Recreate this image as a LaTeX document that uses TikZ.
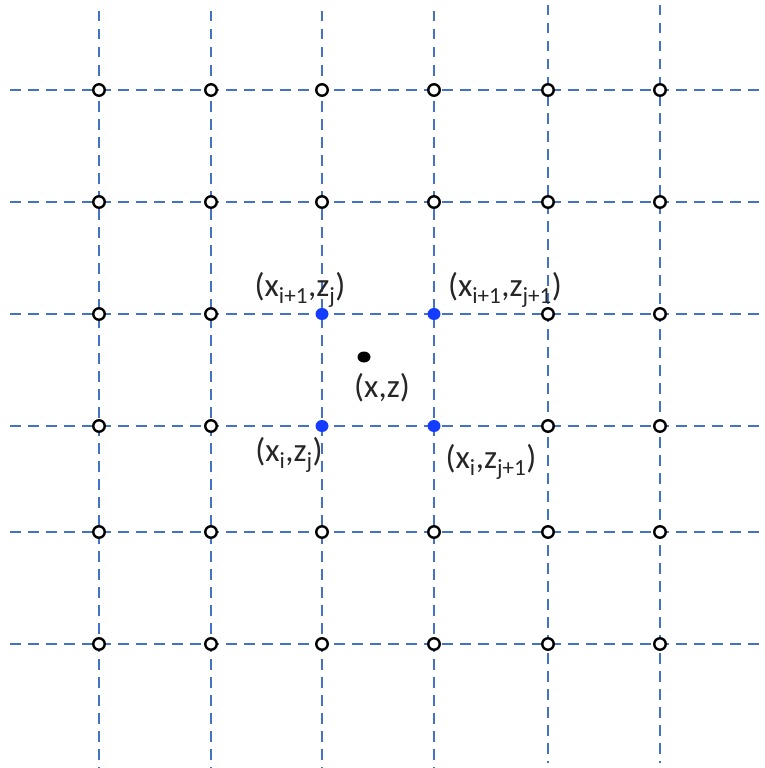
\documentclass[tikz,border=0pt]{standalone}
\usepackage{fontspec}
\setmainfont{Carlito}
\tikzset{
  gridline/.style={draw={rgb,255:red,68;green,114;blue,196}, line width=2.5pt, dash pattern=on 10.5pt off 7.5pt},
  gridpt/.style={circle, draw=black, fill=white, line width=2.4pt, minimum size=11.5pt, inner sep=0pt},
  bluept/.style={ellipse, fill={rgb,255:red,20;green,60;blue,255}, minimum width=13pt, minimum height=12pt, inner sep=0pt},
  blackpt/.style={ellipse, fill=black, minimum width=13pt, minimum height=11pt, inner sep=0pt},
  lbl/.style={font=\fontsize{33}{36}\selectfont, inner sep=0pt, text=black!85}
}
\usetikzlibrary{shapes.geometric}
\newcommand{\sbs}[1]{\textsubscript{#1}}
\begin{document}
\begin{tikzpicture}[x=1pt,y=-1pt]
\useasboundingbox (0,0) rectangle (765,768);
% vertical lines
\foreach \c/\xx/\ya/\yb in {1/99/11/768,2/211/11/768,3/322/11/768,4/434/11/768,5/548/5/763,6/660/5/763}{
  \coordinate (vt\c) at (\xx,\ya);
  \coordinate (vb\c) at (\xx,\yb);
  \draw[gridline] (vt\c) -- (vb\c);
}
% horizontal lines
\foreach \r/\yy in {1/90,2/202,3/314,4/426,5/532,6/644}{
  \coordinate (hl\r) at (10,\yy);
  \coordinate (hr\r) at (765,\yy);
  \draw[gridline] (hl\r) -- (hr\r);
}
% grid points
\foreach \c/\xx in {1/99,2/211,3/322,4/434,5/548,6/660}{
  \foreach \r/\yy in {1/90,2/202,3/314,4/426,5/532,6/644}{
    \ifnum\c=3 \ifnum\r=3 \else\ifnum\r=4 \else
      \node[gridpt] (p\c\r) at (\xx,\yy) {};
    \fi\fi
    \else\ifnum\c=4 \ifnum\r=3 \else\ifnum\r=4 \else
      \node[gridpt] (p\c\r) at (\xx,\yy) {};
    \fi\fi
    \else
      \node[gridpt] (p\c\r) at (\xx,\yy) {};
    \fi\fi
  }
}
% blue points
\node[bluept] (b33) at (322,314) {};
\node[bluept] (b43) at (434,314) {};
\node[bluept] (b34) at (322,426) {};
\node[bluept] (b44) at (434,426) {};
% black point
\node[blackpt] (xz) at (364,357) {};
% labels
\node[lbl] (l1) at (300,290) {(x\sbs{i+1},z\sbs{j})};
\node[lbl] (l2) at (505,290) {(x\sbs{i+1},z\sbs{j+1})};
\node[lbl] (l3) at (382,388) {(x,z)};
\node[lbl] (l4) at (289,455) {(x\sbs{i},z\sbs{j})};
\node[lbl] (l5) at (491,462) {(x\sbs{i},z\sbs{j+1})};
\end{tikzpicture}
\end{document}
